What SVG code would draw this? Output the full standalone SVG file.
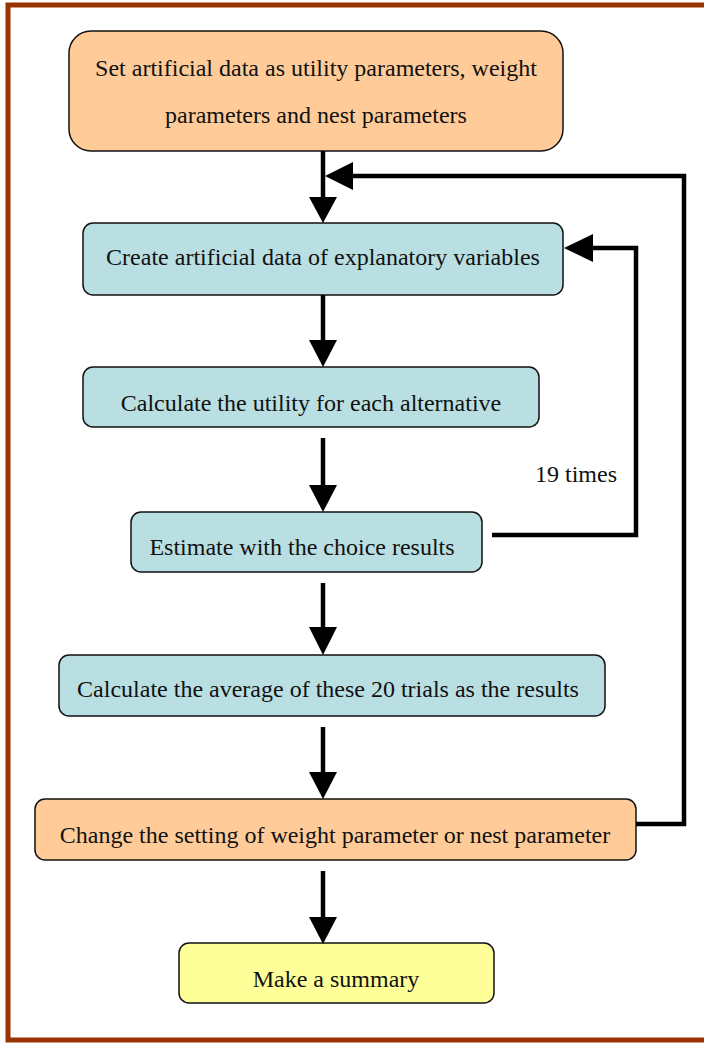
<svg xmlns="http://www.w3.org/2000/svg" width="704" height="1043" viewBox="0 0 704 1043">
<defs>
<style>
.box{stroke:#111;stroke-width:1.5}
.orange{fill:#FFCC99}
.blue{fill:#B9DFE2}
.yellow{fill:#FFFF99}
.t{font-family:"Liberation Serif","Times New Roman",serif;font-size:24px;fill:#111;text-anchor:middle}
.ln{stroke:#000;stroke-width:4.5;fill:none}
.hd{fill:#000}
</style>
</defs>
<rect x="8" y="5" width="720" height="1035" fill="#fff" stroke="#993300" stroke-width="5"/>
<g id="n1">
<rect class="box orange" x="69" y="31" width="494" height="120" rx="22"/>
<text class="t" x="316" y="76">Set artificial data as utility parameters, weight</text>
<text class="t" x="316" y="123">parameters and nest parameters</text>
</g>
<g id="n2">
<rect class="box blue" x="83" y="223" width="480" height="72" rx="10"/>
<text class="t" x="323" y="265">Create artificial data of explanatory variables</text>
</g>
<g id="n3">
<rect class="box blue" x="83" y="367" width="456" height="60" rx="10"/>
<text class="t" x="311" y="411">Calculate the utility for each alternative</text>
</g>
<g id="n4">
<rect class="box blue" x="131" y="512" width="351" height="60" rx="10"/>
<text class="t" x="302" y="555">Estimate with the choice results</text>
</g>
<g id="n5">
<rect class="box blue" x="59" y="655" width="546" height="61" rx="10"/>
<text class="t" x="328" y="697">Calculate the average of these 20 trials as the results</text>
</g>
<g id="n6">
<rect class="box orange" x="35" y="799" width="601" height="61" rx="10"/>
<text class="t" x="335" y="843">Change the setting of weight parameter or nest parameter</text>
</g>
<g id="n7">
<rect class="box yellow" x="179" y="943" width="315" height="60" rx="10"/>
<text class="t" x="336" y="987">Make a summary</text>
</g>
<g id="connectors">
<line class="ln" x1="323" y1="151" x2="323" y2="200"/>
<polygon class="hd" points="309,197 337,197 323,223"/>
<line class="ln" x1="323" y1="295" x2="323" y2="343"/>
<polygon class="hd" points="309,340 337,340 323,367"/>
<line class="ln" x1="323" y1="438" x2="323" y2="488"/>
<polygon class="hd" points="309,485 337,485 323,512"/>
<line class="ln" x1="323" y1="583" x2="323" y2="630"/>
<polygon class="hd" points="309,627 337,627 323,655"/>
<line class="ln" x1="323" y1="727" x2="323" y2="775"/>
<polygon class="hd" points="309,772 337,772 323,799"/>
<line class="ln" x1="323" y1="871" x2="323" y2="920"/>
<polygon class="hd" points="309,917 337,917 323,944"/>
<polyline class="ln" points="492,535 636,535 636,248 590,248"/>
<polygon class="hd" points="593,234 593,262 564,248"/>
<polyline class="ln" points="636,824 684,824 684,176 350,176"/>
<polygon class="hd" points="353,162 353,190 325,176"/>
</g>
<text class="t" x="576" y="482">19 times</text>
</svg>
